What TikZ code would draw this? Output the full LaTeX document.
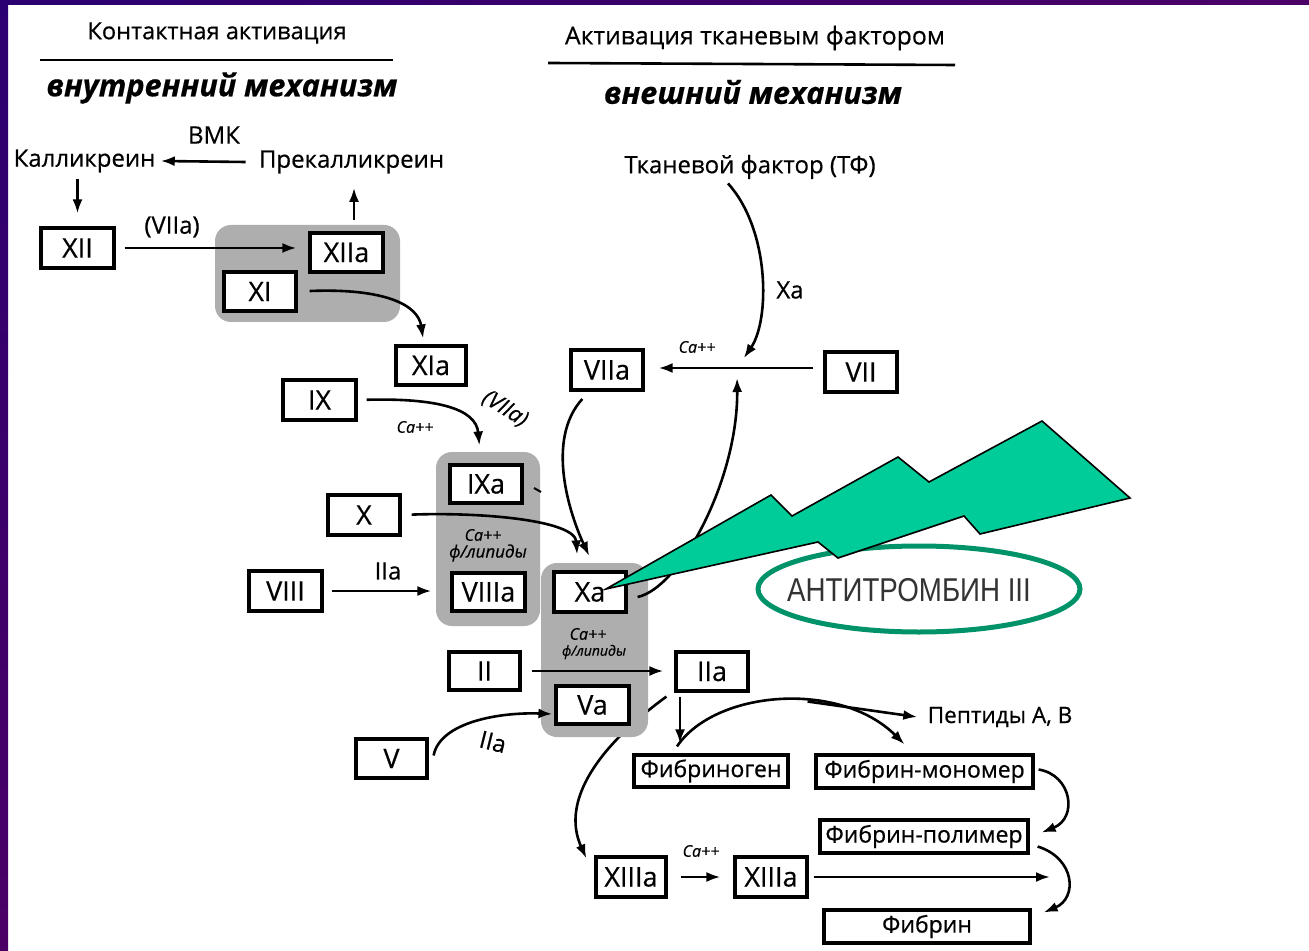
\documentclass[tikz,border=0pt]{standalone}
\usepackage{fontspec}
\setmainfont{Open Sans}[FakeBold=0.5]
\newfontfamily\narrowfont[FakeStretch=0.84]{Liberation Sans}
\usetikzlibrary{arrows.meta,calc,shapes.geometric}
\pgfdeclarelayer{bgl}
\pgfdeclarelayer{back}
\pgfdeclarelayer{grpl}
\pgfsetlayers{bgl,back,grpl,main}
\definecolor{grp}{RGB}{174,174,174}
\definecolor{frameA}{RGB}{43,0,112}
\definecolor{frameB}{RGB}{75,0,102}
\definecolor{bolt}{RGB}{0,204,153}
\definecolor{ring}{RGB}{0,146,104}
\definecolor{attext}{RGB}{51,51,51}
\begin{document}
\begin{tikzpicture}[x=0.5pt,y=-0.5pt,
  bx/.style={draw, line width=1.6pt, fill=white, inner sep=0pt, font=\fontsize{13.5}{16}\selectfont},
  fbx/.style={bx, font=\fontsize{11.5}{14}\selectfont},
  tx/.style={inner sep=0pt, font=\fontsize{12}{14}\selectfont},
  hd/.style={inner sep=0pt, font=\fontsize{11.8}{14}\selectfont},
  hdb/.style={inner sep=0pt, font=\fontsize{15.3}{18}\selectfont\bfseries\itshape},
  ca/.style={inner sep=0pt, font=\fontsize{8}{9}\selectfont\itshape},
  arr/.style={line width=1.3pt, -{Latex[length=7pt,width=5pt]}},
  rule/.style={line width=1.3pt},
  grpbox/.style={fill=grp, rounded corners=8pt},
]
\useasboundingbox (0,0) rectangle (1309,951);
\begin{pgfonlayer}{bgl}
\fill[white] (0,0) rectangle (1309,951);
\shade[top color=frameA, bottom color=frameB] (0,0) rectangle (8,951);
\shade[left color=frameA, right color=frameB] (0,0) rectangle (1309,5);
\end{pgfonlayer}

% headings
\node[hd] (h1) at (217,33) {Контактная активация};
\coordinate (l1a) at (40,60); \coordinate (l1b) at (393,60);
\draw[rule] (l1a) -- (l1b);
\node[hdb] (h2) at (222,88) {внутренний механизм};
\node[hd, font=\fontsize{12.4}{14}\selectfont] (h3) at (755,38) {Активация тканевым фактором};
\coordinate (l2a) at (548,63); \coordinate (l2b) at (955,65);
\draw[rule] (l2a) -- (l2b);
\node[hdb] (h4) at (753,92) {внешний механизм};

% texts
\node[tx] (vmk) at (214,135) {ВМК};
\node[tx] (kal) at (84.5,161) {Калликреин};
\node[tx] (prek) at (351.5,162) {Прекалликреин};
\node[tx] (tf) at (750,167) {Тканевой фактор (ТФ)};
\node[tx, font=\fontsize{11.3}{14}\selectfont] (pep) at (1000,717) {Пептиды А, В};

% groups
\begin{pgfonlayer}{grpl}
\fill[grpbox] (215,225) rectangle (400,322);
\fill[grpbox] (436,452) rectangle (540,626);
\fill[grpbox] (541,563) rectangle (648,737);
\end{pgfonlayer}

% boxes
\node[bx, minimum width=36.5pt, minimum height=20pt] (XII) at (77.5,248) {XII};
\node[bx, minimum width=36.5pt, minimum height=19.5pt] (XIIa) at (346.5,252.5) {XIIa};
\node[bx, minimum width=36pt, minimum height=19.5pt] (XI) at (260,291.5) {XI};
\node[bx, minimum width=35pt, minimum height=19.5pt] (XIa) at (431,365.5) {XIa};
\node[bx, minimum width=36.5pt, minimum height=20pt] (IX) at (319.5,400) {IX};
\node[bx, minimum width=36pt, minimum height=19pt] (IXa) at (486,484) {IXa};
\node[bx, minimum width=36.5pt, minimum height=19pt] (VIIIa) at (488.5,592) {VIIIa};
\node[bx, minimum width=36pt, minimum height=20pt] (X) at (364,515) {X};
\node[bx, minimum width=36.5pt, minimum height=20pt] (VIII) at (285.5,591) {VIII};
\node[bx, minimum width=36pt, minimum height=20pt] (Xa) at (590,592) {Xa};
\node[bx, minimum width=36.5pt, minimum height=19pt] (Va) at (592.5,705) {Va};
\node[bx, minimum width=35.5pt, minimum height=19pt] (II) at (484.5,671) {II};
\node[bx, minimum width=36pt, minimum height=19.5pt] (IIa) at (712,671.5) {IIa};
\node[bx, minimum width=35.5pt, minimum height=19.5pt] (V) at (391.5,758.5) {V};
\node[bx, minimum width=36pt, minimum height=20pt] (VIIa) at (607,370) {VIIa};
\node[bx, minimum width=36pt, minimum height=20pt] (VII) at (861,372) {VII};
\node[fbx, minimum width=77pt, minimum height=16pt] (fg) at (711,771) {Фибриноген};
\node[fbx, minimum width=108.5pt, minimum height=16.5pt] (mono) at (924.5,771.5) {Фибрин-мономер};
\node[fbx, minimum width=104pt, minimum height=16.5pt] (poly) at (924,836.5) {Фибрин-полимер};
\node[fbx, minimum width=103pt, minimum height=16.5pt] (fib) at (927,926.5) {Фибрин};
\node[bx, minimum width=35pt, minimum height=20pt] (XIIIa1) at (631,877) {XIIIa};
\node[bx, minimum width=36pt, minimum height=20pt] (XIIIa2) at (771,877) {XIIIa};

% labels
\node[tx] (lb1) at (172,227) {(VIIa)};
\node[ca] (lb2) at (415,427) {Ca++};
\node[tx, rotate=-32, font=\fontsize{11}{13}\selectfont\itshape] (lb3) at (505,409) {(VIIa)};
\node[tx] (lb4) at (388,571) {IIa};
\node[tx, rotate=-14] (lb5) at (493,742) {IIa};
\node[ca] (lb6) at (483,535) {Ca++};
\node[ca, font=\fontsize{8.5}{9}\selectfont\itshape] (lb7) at (488,553) {ф/липиды};
\node[ca] (lb8) at (588,634) {Ca++};
\node[ca, font=\fontsize{7}{8}\selectfont\itshape] (lb9) at (594,652) {ф/липиды};
\node[ca] (lb10) at (701,851) {Ca++};
\node[ca] (lb11) at (697,347) {Ca++};
\node[tx] (lb12) at (790,290) {Xa};

% connectors
\draw[arr] ([xshift=-6.5pt]prek.west) -- ([xshift=2.5pt]kal.east);
\draw[arr, shorten <=3pt, shorten >=6.5pt] (XII.north |- kal.south) -- (XII.north);
\draw[arr, shorten <=4.5pt, shorten >=6pt] (XII.east) -- (XII.east -| XIIa.west);
\draw[arr, shorten <=5.5pt, shorten >=7pt] ([xshift=3.75pt]XIIa.north) -- ([xshift=3.75pt]XIIa.north |- prek.south);
\draw[arr, shorten <=6pt, shorten >=3pt] (XI.east) .. controls (385,288) and (418,305) .. ([xshift=-3.5pt]XIa.north);
\draw[arr, shorten <=4.5pt, shorten >=9pt] (IX.east) .. controls (435,398) and (476,408) .. ([xshift=-2.5pt]IXa.north);
\draw[arr, shorten <=5pt, shorten >=8pt] (X.east) .. controls (480,512) and (575,520) .. ([xshift=-6pt]Xa.north);
\draw[arr, shorten <=5pt, shorten >=8pt] ([xshift=-9pt]VIIa.south) .. controls (545,440) and (570,515) .. ([xshift=3pt]Xa.north);
\draw[arr, shorten <=4pt, shorten >=9.5pt] (VIII.east) -- (VIII.east -| VIIIa.west);
\draw[arr, shorten <=5pt, shorten >=5.5pt] (II.east) -- (II.east -| IIa.west);
\draw[arr] ([xshift=2.5pt,yshift=1.5pt]V.east) .. controls (440,722) and (500,712) .. ([xshift=-1pt,yshift=-4.5pt]Va.west);
\begin{pgfonlayer}{back}
\draw[arr] ([xshift=-4pt,yshift=-2pt]IIa.south west) .. controls (600,745) and (560,800) .. ([xshift=-4pt,yshift=-1.5pt]XIIIa1.north west);
\end{pgfonlayer}
\draw[arr, shorten <=2pt, shorten >=5pt] ([xshift=-16pt]IIa.south) -- ([xshift=-16pt]IIa.south |- fg.north);
\draw[arr] ([xshift=-17pt,yshift=3.5pt]fg.north) .. controls (715,690) and (840,680) .. ([xshift=-10pt,yshift=4.5pt]mono.north);
\coordinate (pk) at (807.6,701.5);
\draw[arr] (pk) -- ([xshift=-5pt]pep.west);
\draw[arr] ([xshift=2pt,yshift=1pt]mono.east) .. controls (1072,775) and (1078,818) .. ([xshift=6pt,yshift=2pt]poly.east);
\draw[arr] ([xshift=4pt,yshift=-5pt]poly.east) .. controls (1075,858) and (1078,898) .. ([xshift=6pt,yshift=7pt]fib.east);
\draw[arr, shorten <=6.5pt, shorten >=6.5pt] (XIIIa1.east) -- (XIIIa2.west);
\coordinate (endf) at (1050,876);
\draw[arr, shorten <=2.5pt] (XIIIa2.east) -- (XIIIa2.east -| endf);
\coordinate (jn) at (737,368);
\draw[arr, shorten >=6pt] ([xshift=-11pt,yshift=-2pt]tf.south) .. controls (770,230) and (770,320) .. (jn);
\draw[arr, shorten <=5pt, shorten >=7pt] ([yshift=2pt]VII.west) -- ([yshift=2pt]VII.west -| VIIa.east);
\draw[arr, shorten >=5pt] ([xshift=5pt,yshift=-2.5pt]Xa.east) .. controls (680,588) and (738,480) .. (jn);
\draw[line width=1pt] (534,488) -- (541,492);

% antithrombin
\coordinate (atc) at (919,589);
\draw[ring, line width=2.5pt] (atc) ellipse [x radius=80.5pt, y radius=21.5pt];
\node[inner sep=0pt, text=attext, font=\narrowfont\fontsize{16.5}{18}\selectfont] (at3) at (909,590) {АНТИТРОМБИН III};
\draw[fill=bolt, line width=0.8pt, line join=miter] (606,589) -- (771,495) -- (792,516) -- (898,457) -- (929,482) -- (1042,421) -- (1130,498) -- (980,534) -- (964,516) -- (838,558) -- (818,542) -- cycle;
\end{tikzpicture}
\end{document}
